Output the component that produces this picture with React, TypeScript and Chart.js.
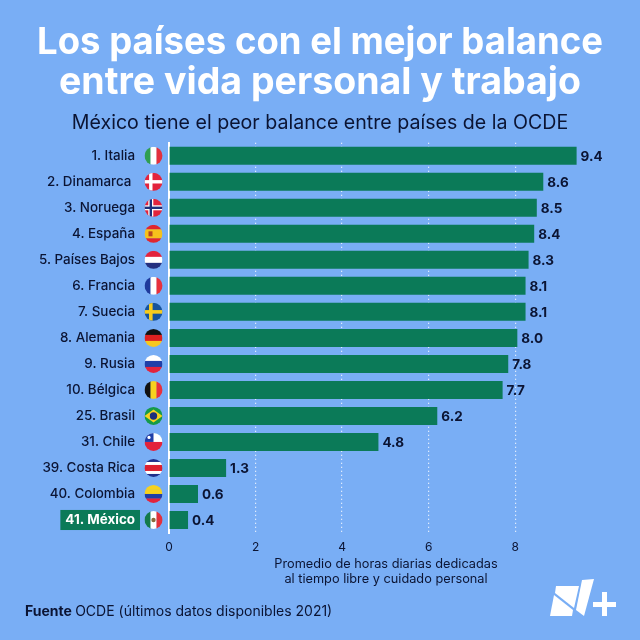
import { useEffect, useRef } from "react";
import { Chart, registerables } from "chart.js";

Chart.register(...registerables);

const paises = [
  "1. Italia",
  "2. Dinamarca ",
  "3. Noruega",
  "4. España",
  "5. Países Bajos",
  "6. Francia",
  "7. Suecia",
  "8. Alemania",
  "9. Rusia",
  "10. Bélgica",
  "25. Brasil",
  "31. Chile",
  "39. Costa Rica",
  "40. Colombia",
  "41. México",
];

// printed values
const etiquetas = ["9.4", "8.6", "8.5", "8.4", "8.3", "8.1", "8.1", "8.0", "7.8", "7.7", "6.2", "4.8", "1.3", "0.6", "0.4"];
// bar lengths as drawn in the picture (they run a bit off the printed numbers)
const horas = [9.42, 8.65, 8.5, 8.44, 8.31, 8.24, 8.24, 8.05, 7.84, 7.71, 6.2, 4.84, 1.32, 0.67, 0.44];
const xTicks = [0, 2, 4, 6, 8];

const titulo = ["Los países con el mejor balance", "entre vida personal y trabajo"];
const subtitulo = "México tiene el peor balance entre países de la OCDE";
const tituloEje = ["Promedio de horas diarias dedicadas", "al tiempo libre y cuidado personal"];

const FONDO = "#79aef5";
const VERDE = "#0b7a58";
const TINTA = "#0b1433";
const FUENTE = "Inter, sans-serif";

// flag stripes, top to bottom or left to right
const banderas: [("h" | "v"), string[]][] = [
  ["v", ["#2f9e50", "#ffffff", "#e3303c"]],
  ["h", ["#e3233c"]],
  ["h", ["#e3233c"]],
  ["h", ["#e0262f", "#f6c21c", "#f6c21c", "#e0262f"]],
  ["h", ["#e3233c", "#ffffff", "#25307f"]],
  ["v", ["#1f3a9c", "#ffffff", "#e8303c"]],
  ["h", ["#17539c"]],
  ["h", ["#111111", "#dd2020", "#f7c81e"]],
  ["h", ["#ffffff", "#1f3fa8", "#e3233c"]],
  ["v", ["#111111", "#f7d21e", "#e8303c"]],
  ["h", ["#159a48"]],
  ["h", ["#ffffff", "#e3233c"]],
  ["h", ["#1e2f8c", "#ffffff", "#dd2030", "#dd2030", "#ffffff", "#1e2f8c"]],
  ["h", ["#f7d21e", "#f7d21e", "#1f3fa8", "#e3233c"]],
  ["v", ["#137a4b", "#ffffff", "#e3303c"]],
];

function cruz(c: CanvasRenderingContext2D, r: number, color: string, w: number) {
  c.fillStyle = color;
  c.fillRect(-r, -w / 2, 2 * r, w);
  c.fillRect(-r * 0.3 - w / 2, -r, w, 2 * r);
}

function dibujaBandera(c: CanvasRenderingContext2D, i: number, x: number, y: number, r: number) {
  const [dir, colores] = banderas[i];
  c.save();
  c.translate(x, y);
  c.beginPath();
  c.arc(0, 0, r, 0, Math.PI * 2);
  c.clip();
  const n = colores.length;
  colores.forEach((col, k) => {
    c.fillStyle = col;
    if (dir === "h") c.fillRect(-r, -r + (2 * r * k) / n, 2 * r, (2 * r) / n + 0.3);
    else c.fillRect(-r + (2 * r * k) / n, -r, (2 * r) / n + 0.3, 2 * r);
  });
  if (i === 1) cruz(c, r, "#ffffff", 3.4);
  if (i === 2) {
    cruz(c, r, "#ffffff", 5);
    cruz(c, r, "#1c2f7c", 2.4);
  }
  if (i === 3) {
    c.fillStyle = "#b8461f";
    c.fillRect(-5, -2.5, 4, 5);
  }
  if (i === 6) cruz(c, r, "#f7cc1e", 3.6);
  if (i === 10) {
    c.fillStyle = "#f7d21e";
    c.beginPath();
    c.moveTo(-r, 0);
    c.lineTo(0, -r * 0.72);
    c.lineTo(r, 0);
    c.lineTo(0, r * 0.72);
    c.fill();
    c.fillStyle = "#1c2f7c";
    c.beginPath();
    c.arc(0, 0, 3.7, 0, Math.PI * 2);
    c.fill();
  }
  if (i === 11) {
    c.fillStyle = "#1f3fa8";
    c.fillRect(-r, -r, r, r);
    c.fillStyle = "#ffffff";
    c.beginPath();
    c.arc(-r / 2, -r / 2, 1.6, 0, Math.PI * 2);
    c.fill();
  }
  if (i === 14) {
    c.fillStyle = "#8a6a3a";
    c.beginPath();
    c.arc(0, 0, 2.2, 0, Math.PI * 2);
    c.fill();
  }
  c.restore();
}

function poligono(c: CanvasRenderingContext2D, pts: number[][]) {
  c.beginPath();
  pts.forEach(([x, y], i) => (i ? c.lineTo(x, y) : c.moveTo(x, y)));
  c.closePath();
  c.fill();
}

const extras = {
  id: "extras",
  afterDatasetsDraw(chart: Chart) {
    const c = chart.ctx;
    const yScale = chart.scales.y;
    const barras = chart.getDatasetMeta(0).data;

    // banderas
    paises.forEach((_, i) => dibujaBandera(c, i, 153.5, yScale.getPixelForValue(i), 9));

    // valores
    c.save();
    c.fillStyle = TINTA;
    c.font = `700 13.5px ${FUENTE}`;
    c.textAlign = "left";
    c.textBaseline = "middle";
    barras.forEach((b: any, i: number) => c.fillText(etiquetas[i], b.x + 4, b.y + 1));

    // fuente
    c.textBaseline = "alphabetic";
    c.font = `700 14px ${FUENTE}`;
    c.fillText("Fuente", 25, 616);
    const w = c.measureText("Fuente ").width;
    c.font = `400 14px ${FUENTE}`;
    c.fillText("OCDE (últimos datos disponibles 2021)", 25 + w, 616);

    // logo
    c.fillStyle = "#ffffff";
    poligono(c, [[556, 586], [579, 586], [574, 608], [555, 593]]);
    poligono(c, [[554, 595], [573, 610], [572, 616], [550, 616]]);
    poligono(c, [[582, 580], [594, 579], [584, 616], [576, 610]]);
    c.fillRect(593, 602, 23, 5);
    c.fillRect(602, 592, 5, 24);
    c.restore();
  },
};

export default function App() {
  const canvasRef = useRef<HTMLCanvasElement | null>(null);

  useEffect(() => {
    if (!canvasRef.current) return;
    document.body.style.margin = "0";

    const chart = new Chart(canvasRef.current, {
      type: "bar",
      plugins: [extras],
      data: {
        labels: paises,
        datasets: [
          {
            data: horas,
            backgroundColor: VERDE,
            categoryPercentage: 1,
            barPercentage: 18 / 26,
          },
        ],
      },
      options: {
        indexAxis: "y",
        animation: false,
        responsive: false,
        layout: { padding: { left: 37, right: 37, top: 19, bottom: 0 } },
        plugins: {
          legend: { display: false },
          tooltip: { enabled: false },
          title: {
            display: true,
            text: titulo,
            color: "#ffffff",
            font: { family: FUENTE, size: 37.5, weight: 700, lineHeight: 1.07 },
            padding: { top: 4, bottom: 8 },
          },
          subtitle: {
            display: true,
            text: subtitulo,
            color: TINTA,
            font: { family: FUENTE, size: 19.6, weight: 400 },
            padding: { top: 0, bottom: 8 },
          },
        },
        scales: {
          x: {
            type: "linear",
            min: 0,
            max: 10.03,
            afterBuildTicks: (axis: any) => {
              axis.ticks = xTicks.map((value) => ({ value }));
            },
            afterFit: (axis: any) => {
              axis.height = 107;
            },
            border: { display: false, dash: [1, 3] },
            grid: { color: "#ffffff", lineWidth: 1.2, drawTicks: false },
            ticks: {
              color: TINTA,
              font: { family: FUENTE, size: 12 },
              padding: 7,
              maxRotation: 0,
            },
            title: {
              display: true,
              text: tituloEje,
              color: TINTA,
              font: { family: FUENTE, size: 12.75, lineHeight: 1.2 },
              padding: { top: 0, bottom: 53 },
            },
          },
          y: {
            type: "category",
            afterFit: (axis: any) => {
              axis.width = 132;
            },
            border: { display: true, color: "#ffffff", width: 2 },
            grid: { display: false, drawTicks: false },
            ticks: {
              autoSkip: false,
              crossAlign: "near",
              padding: 34,
              font: (ctx: any) => ({
                family: FUENTE,
                size: 13.4,
                weight: ctx.index === 14 ? 700 : 500,
              }),
              color: (ctx: any) => (ctx.index === 14 ? "#ffffff" : TINTA),
              showLabelBackdrop: (ctx: any) => ctx.index === 14,
              backdropColor: VERDE,
              backdropPadding: { top: 2, bottom: 2, left: 5, right: 5 },
            },
          },
        },
      },
    } as any);

    return () => {
      chart.destroy();
    };
  }, []);

  return (
    <div style={{ width: 640, height: 640, background: FONDO }}>
      <canvas ref={canvasRef} width={640} height={640} style={{ display: "block" }}></canvas>
    </div>
  );
}
